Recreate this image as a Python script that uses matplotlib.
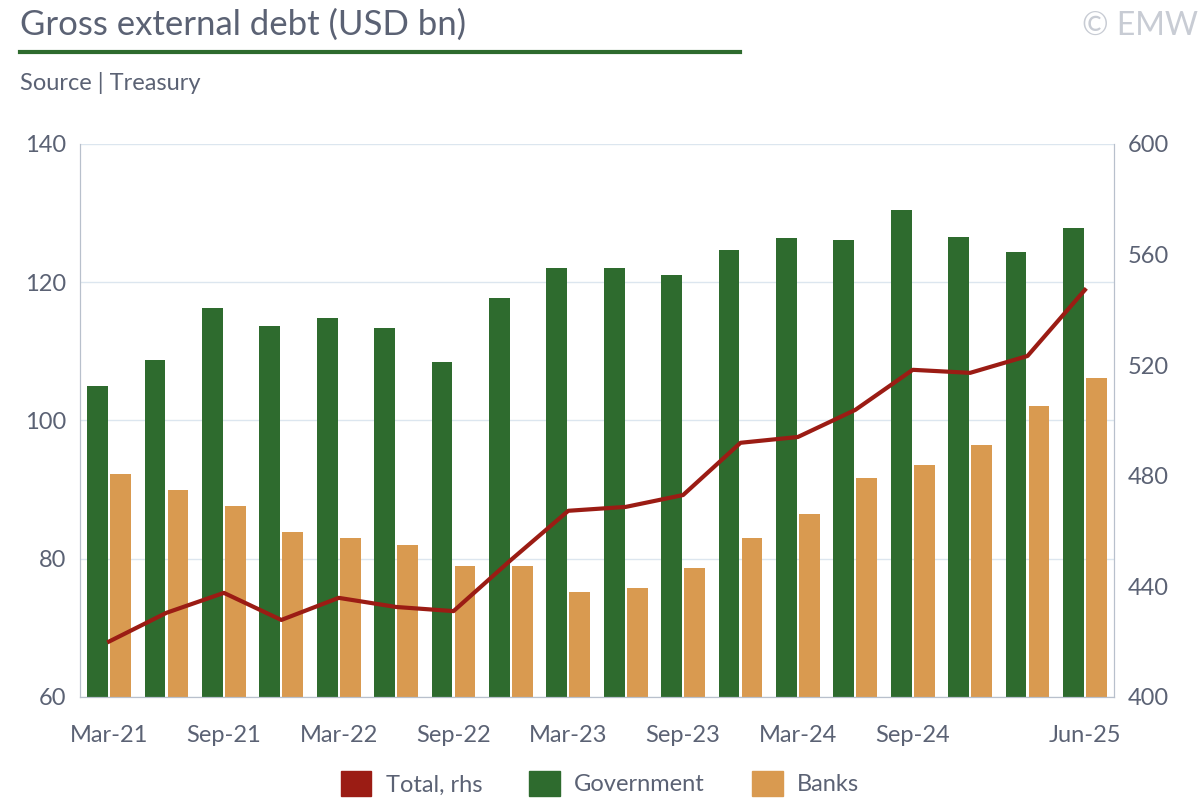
import matplotlib
matplotlib.use("Agg")
import matplotlib.pyplot as plt
import numpy as np
from matplotlib.patches import Patch

plt.rcParams['font.family'] = ['Lato', 'DejaVu Sans']

quarters = ["Mar-21","Jun-21","Sep-21","Dec-21","Mar-22","Jun-22","Sep-22","Dec-22","Mar-23",
            "Jun-23","Sep-23","Dec-23","Mar-24","Jun-24","Sep-24","Dec-24","Mar-25","Jun-25"]
government = [105, 108.8, 116.3, 113.7, 114.8, 113.4, 108.5, 117.7, 122, 122, 121.1, 124.6,
              126.4, 126.1, 130.4, 126.6, 124.3, 127.8]
banks = [92.3, 90, 87.6, 83.9, 83, 81.9, 79, 79, 75.2, 75.8, 78.7, 83, 86.5, 91.7, 93.5,
         96.4, 102.1, 106.2]
total = [420, 430.4, 437.6, 427.8, 435.8, 432.5, 431, 449.5, 467.3, 468.7, 473, 491.9,
         494, 503.8, 518.3, 517.2, 523.3, 547.2]
tick_labels = ["Mar-21","Sep-21","Mar-22","Sep-22","Mar-23","Sep-23","Mar-24","Sep-24","Jun-25"]

GREEN = "#2e6b2e"; ORANGE = "#d99a50"; RED = "#9b1c14"; TXT = "#5b6274"; GRID = "#dce6ef"

fig = plt.figure(figsize=(12, 8), dpi=100)
ax = fig.add_axes([0.067, 0.129, 0.861, 0.691])
x = np.arange(len(quarters))
w = 0.36
ax.bar(x - w/2 - 0.02, government, w, color=GREEN, zorder=2)
ax.bar(x + w/2 + 0.02, banks, w, color=ORANGE, zorder=2)
ax.set_ylim(60, 140)
ax.set_yticks([60, 80, 100, 120, 140])
ax.set_xlim(-0.5, len(quarters) - 0.5)
ax.grid(axis='y', color=GRID, lw=1, zorder=0)
tpos = [quarters.index(t) for t in tick_labels]
ax.set_xticks(tpos)
ax.set_xticklabels(tick_labels)
ax2 = ax.twinx()
ax2.plot(x, total, color=RED, lw=3, zorder=3)
ax2.set_ylim(400, 600)
ax2.set_yticks([400, 440, 480, 520, 560, 600])
for a in (ax, ax2):
    for s in a.spines.values():
        s.set_color("#b8c0cc")
    a.tick_params(colors=TXT, labelsize=17, length=0, pad=10)
ax.tick_params(axis='x', pad=20)
ax.spines['top'].set_visible(False); ax2.spines['top'].set_visible(False)

fig.text(0.017, 0.956, "Gross external debt (USD bn)", fontsize=25, color=TXT)
fig.add_artist(plt.Line2D([0.017, 0.617], [0.935, 0.935], color=GREEN, lw=3))
fig.text(0.017, 0.887, "Source | Treasury", fontsize=17, color=TXT)
fig.text(0.998, 0.956, "© EMW", fontsize=23, color="#c8ccd4", ha='right')

handles = [Patch(color=RED, label="Total, rhs"), Patch(color=GREEN, label="Government"),
           Patch(color=ORANGE, label="Banks")]
fig.legend(handles=handles, loc='lower center', bbox_to_anchor=(0.5, -0.022), ncol=3,
           frameon=False, fontsize=17, labelcolor=TXT, handlelength=1.3, handleheight=1.3,
           columnspacing=2, handletextpad=0.6)
fig.savefig("out.png")
